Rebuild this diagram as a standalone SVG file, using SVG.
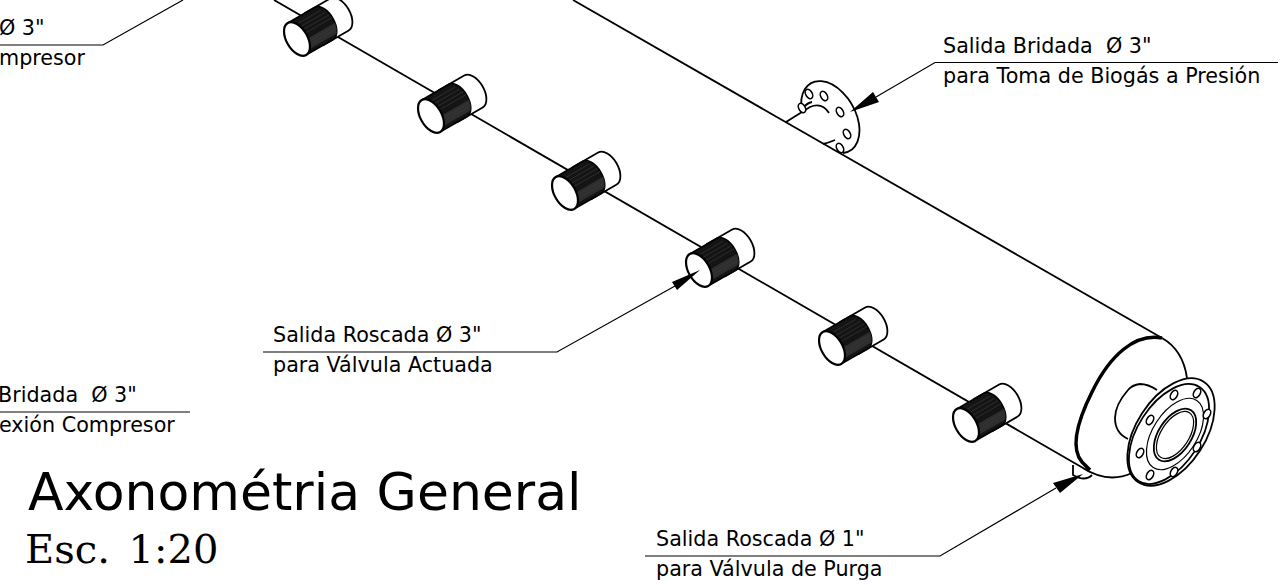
<svg xmlns="http://www.w3.org/2000/svg" xmlns:xlink="http://www.w3.org/1999/xlink" width="1287" height="585" viewBox="0 0 1287 585">
<style>
text{font-family:"DejaVu Sans",sans-serif;fill:#000}
.l{font-size:20.700px}
.n{fill:none;stroke:#000;stroke-width:1.800}
.k{fill:none;stroke:#000;stroke-width:1.200}
.b{fill:#fff;stroke:#000;stroke-width:1.800}
.h{fill:#fff;stroke:#000;stroke-width:1.600}
</style>
<defs>
<g id="fit">
<path d="M20-18.500H49A10.500 18.500 0 0 1 49 18.500H20Z" fill="#fff" stroke="#000" stroke-width="1.800"/>
<path d="M0-18.500H31A10.500 18.500 0 0 1 31 18.500H0Z" fill="#141414" stroke="#000" stroke-width="1.500"/>
<path d="M6 15H37Q40.500 10 41 5H6Z" fill="#2e2e2e"/>
<path d="M6-13H35M6-9H38M6-5H40M6-1H41M6 8H39M6 11H38" stroke="#3a3a3a" stroke-width=".6"/>
<ellipse rx="10.500" ry="18.500" fill="#fff" stroke="#000" stroke-width="2.200"/>
</g>
<ellipse id="hole" rx="3.200" ry="5" class="h"/>
</defs>
<g id="connectors" fill="none" stroke="#000" stroke-width="1.200">
<path id="leader-a" d="M0 45H103L183 0"/>
<path id="leader-b" d="M0 412H190"/>
<path id="leader-c" d="M1278 62.500H935L876 97"/>
<path d="M675 286L557 352H263" id="leader-d"/>
<path d="M1056 488L940 556H645" id="leader-e"/>
</g>
<g id="vessel">
<path d="M573 0L1162 338" class="n"/>
<path d="M274 0L1090 472" class="n"/>
</g>
<g id="fitting-1"><use xlink:href="#fit" transform="translate(297 39) rotate(-30)"/></g>
<g id="fitting-2"><use xlink:href="#fit" transform="translate(431 116) rotate(-30)"/></g>
<g id="fitting-3"><use xlink:href="#fit" transform="translate(565 193) rotate(-30)"/></g>
<g id="fitting-4"><use xlink:href="#fit" transform="translate(699 270) rotate(-30)"/></g>
<g id="fitting-5"><use xlink:href="#fit" transform="translate(832 348) rotate(-30)"/></g>
<g id="fitting-6"><use xlink:href="#fit" transform="translate(966 425) rotate(-30)"/></g>
<g id="top-flange">
<path d="M802 112A25 39 -30 1 1 843 153" class="n"/>
<path d="M786 122L810 107Q822 102 829 113" class="n"/>
<path d="M803 108Q807 103 812 102M823 144Q828 143 835 140" class="n"/>
<use xlink:href="#hole" transform="translate(809 94) rotate(-30)"/>
<use xlink:href="#hole" transform="translate(824 96) rotate(-30)"/>
<use xlink:href="#hole" transform="translate(840 112) rotate(-30)"/>
<use xlink:href="#hole" transform="translate(847 134) rotate(-30)"/>
<use xlink:href="#hole" transform="translate(840 148) rotate(-30)"/>
<use xlink:href="#hole" transform="translate(802 108) rotate(-30)"/>
</g>
<g id="end-flange">
<path d="M1162 338C1135 333 1110 355 1092 392C1078 420 1070 448 1082 462L1090 470" fill="none" stroke="#000" stroke-width="3.500"/>
<path d="M1162 338Q1183 350 1187 378" class="n"/>
<path d="M1083 468Q1108 484 1132 473" class="n"/>
<path d="M1073 465V475Q1085 482 1092 475" class="n"/>
<path d="M1157 390Q1148 384 1140 384Q1132 385 1128 390Q1115 405 1115 418Q1115 433 1128 439" class="n"/>
<ellipse cx="1171" cy="432" rx="34.500" ry="60" transform="rotate(33 1171 432)" class="b"/>
<ellipse cx="1169" cy="434" rx="31" ry="56" transform="rotate(33 1169 434)" class="n"/>
<ellipse cx="1175" cy="434" rx="22" ry="40" transform="rotate(33 1175 434)" class="k"/>
<ellipse cx="1175" cy="435" rx="16.500" ry="29.500" transform="rotate(33 1175 435)" class="b"/>
<ellipse cx="1175" cy="435" rx="14" ry="26.500" transform="rotate(33 1175 435)" class="k"/>
<use xlink:href="#hole" transform="translate(1174 395) rotate(30)"/>
<use xlink:href="#hole" transform="translate(1197 393) rotate(30)"/>
<use xlink:href="#hole" transform="translate(1207 414) rotate(30)"/>
<use xlink:href="#hole" transform="translate(1197 447) rotate(30)"/>
<use xlink:href="#hole" transform="translate(1174 472) rotate(30)"/>
<use xlink:href="#hole" transform="translate(1150 475) rotate(30)"/>
<use xlink:href="#hole" transform="translate(1140 453) rotate(30)"/>
<use xlink:href="#hole" transform="translate(1150 420) rotate(30)"/>
</g>
<g id="arrowheads" fill="#000">
<path d="M850 112L873 92L879 102Z"/>
<path d="M700 270L672 282L677 290Z"/>
<path d="M1083 474L1053 483L1060 493Z"/>
</g>
<g id="labels">
<text class="l" x="-1" y="35">Ø 3"</text>
<text class="l" x="-1" y="65">mpresor</text>
<text class="l" x="-2" y="402" xml:space="preserve">Bridada  Ø 3"</text>
<text class="l" x="-1" y="432">exión Compresor</text>
<text class="l" x="943" y="52.500" xml:space="preserve">Salida Bridada  Ø 3"</text>
<text class="l" x="943" y="82.500">para Toma de Biogás a Presión</text>
<text class="l" x="273" y="342">Salida Roscada Ø 3"</text>
<text class="l" x="273" y="372">para Válvula Actuada</text>
<text class="l" x="656" y="546">Salida Roscada Ø 1"</text>
<text class="l" x="656" y="576">para Válvula de Purga</text>
<text x="28" y="509.500" font-size="52">Axonométria General</text>
<text x="25" y="563" font-size="40" word-spacing="6" style="font-family:'DejaVu Serif',serif">Esc. 1:20</text>
</g>
</svg>
